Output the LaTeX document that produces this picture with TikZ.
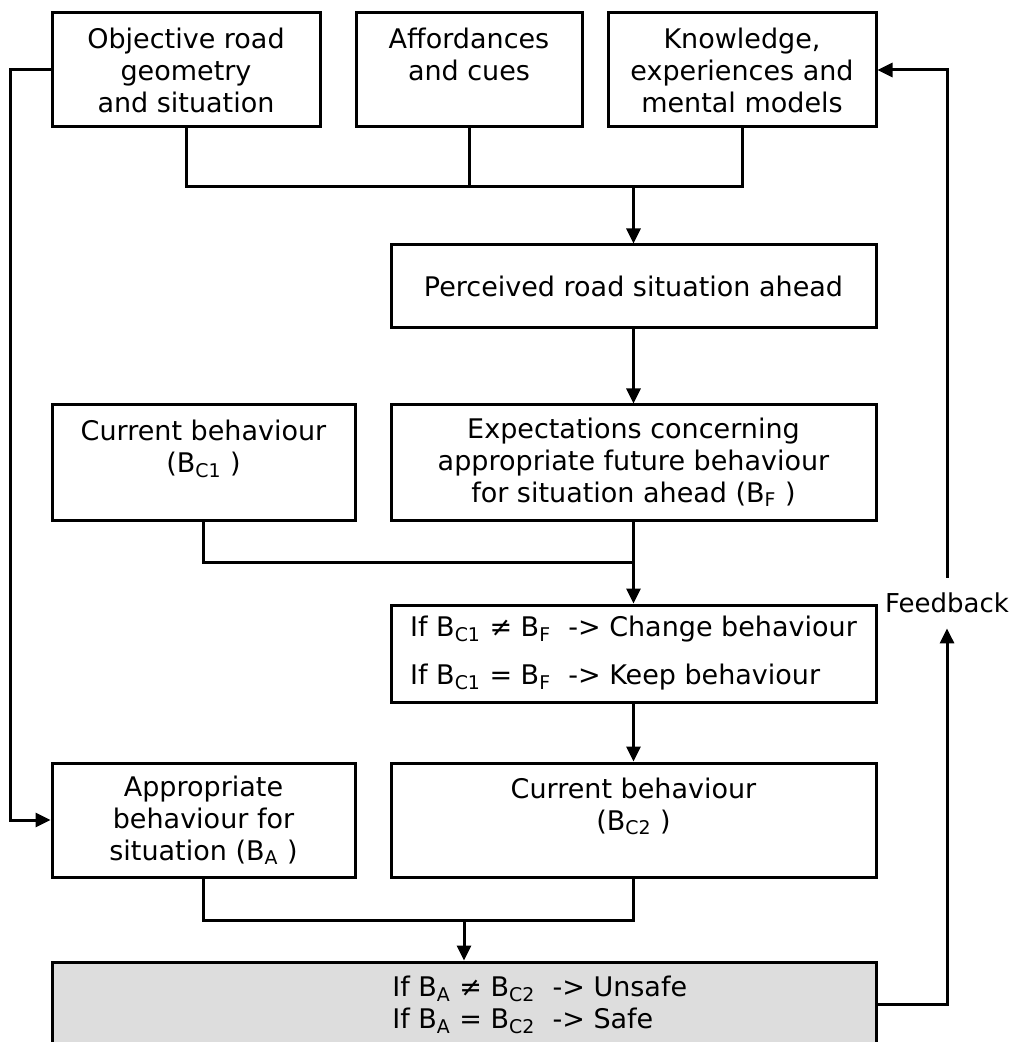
\documentclass[tikz,border=0pt]{standalone}
\usepackage{fontspec}
\setmainfont{DejaVu Sans}
\newfontfamily\plainfont{DejaVu Sans}
\usetikzlibrary{arrows.meta}

\begin{document}
\begin{tikzpicture}[x=0.5pt,y=-0.5pt,
  mybox/.style={draw,line width=1.5pt,inner sep=0pt,align=center,font=\fontsize{13.5}{16}\selectfont},
  myline/.style={line width=1.5pt},
  myarrow/.style={myline,-{Triangle[length=7.5pt,width=7pt]}}]
\definecolor{shade}{HTML}{DDDDDD}
\useasboundingbox (0,0) rectangle (1013,1042);
% top row
\node [mybox,minimum width=134pt,minimum height=57pt] (objective) at (186,70) {Objective road\\geometry\\and situation};
\node [mybox,minimum width=113pt,minimum height=57pt] (affordances) at (469,70) {Affordances\\and cues\\~};
\node [mybox,minimum width=134pt,minimum height=57pt] (knowledge) at (742,70) {Knowledge,\\experiences and\\mental models};
\node [mybox,minimum width=242.5pt,minimum height=41.5pt] (perceived) at (633.5,286.5) {Perceived road situation ahead};
% middle rows
\node [mybox,minimum width=151.5pt,minimum height=57.5pt] (current1) at (203.5,462.5) {Current behaviour\\(B\textsubscript{C1} )\\~};
\node [mybox,minimum width=242.5pt,minimum height=57.5pt] (expect) at (633.5,462.5) {Expectations concerning\\appropriate future behaviour\\for situation ahead (B\textsubscript{F} )};
\node [mybox,align=left,minimum width=242.5pt,minimum height=48.5pt] (compare) at (633.5,653.5) {If B\textsubscript{C1} ≠ B\textsubscript{F}\ \ -> Change behaviour\\[8pt]If B\textsubscript{C1} = B\textsubscript{F}\ \ -> Keep behaviour};
\node [mybox,minimum width=151.5pt,minimum height=57pt] (appropriate) at (203.5,820) {Appropriate\\behaviour for\\situation (B\textsubscript{A} )};
\node [mybox,minimum width=242.5pt,minimum height=57pt] (current2) at (633.5,820) {Current behaviour\\(B\textsubscript{C2} )\\~};
% result
\node [mybox,fill=shade,minimum width=412pt,minimum height=42pt] (result) at (464,1004) {};
\node [anchor=west,align=left,inner sep=0pt,font=\plainfont\fontsize{13.5}{16}\selectfont] (resulttext) at (392,1005) {If B\textsubscript{A} ≠ B\textsubscript{C2}\ \ ->\ Unsafe\\If B\textsubscript{A} = B\textsubscript{C2}\ \ ->\ Safe};
\node [inner sep=0pt,minimum height=25pt,font=\plainfont\fontsize{13}{16}\selectfont] (feedback) at (947,603) {Feedback};
% joins
\coordinate (join1) at (633.5,187);
\coordinate (join2) at (633.5,562);
\coordinate (join3) at (464,920);
\draw [myline] (objective.south) |- (knowledge.south |- join1) -- (knowledge.south);
\draw [myline] (affordances.south) -- (affordances.south |- join1);
\draw [myarrow] (join1) -- (perceived.north);
\draw [myarrow] (perceived.south) -- (expect.north);
\draw [myline] (current1.south) |- (join2) -- (expect.south);
\draw [myarrow] (join2) -- (compare.north);
\draw [myarrow] (compare.south) -- (current2.north);
\draw [myline] (appropriate.south) |- (current2.south |- join3) -- (current2.south);
\draw [myarrow] (join3) -- (result.north);
% side loops
\draw [myarrow] (objective.west) -- ++(-40,0) |- (appropriate.west);
\draw [myarrow] (result.east) -| (feedback.south);
\draw [myarrow] (feedback.north) |- (knowledge.east);
\end{tikzpicture}
\end{document}
